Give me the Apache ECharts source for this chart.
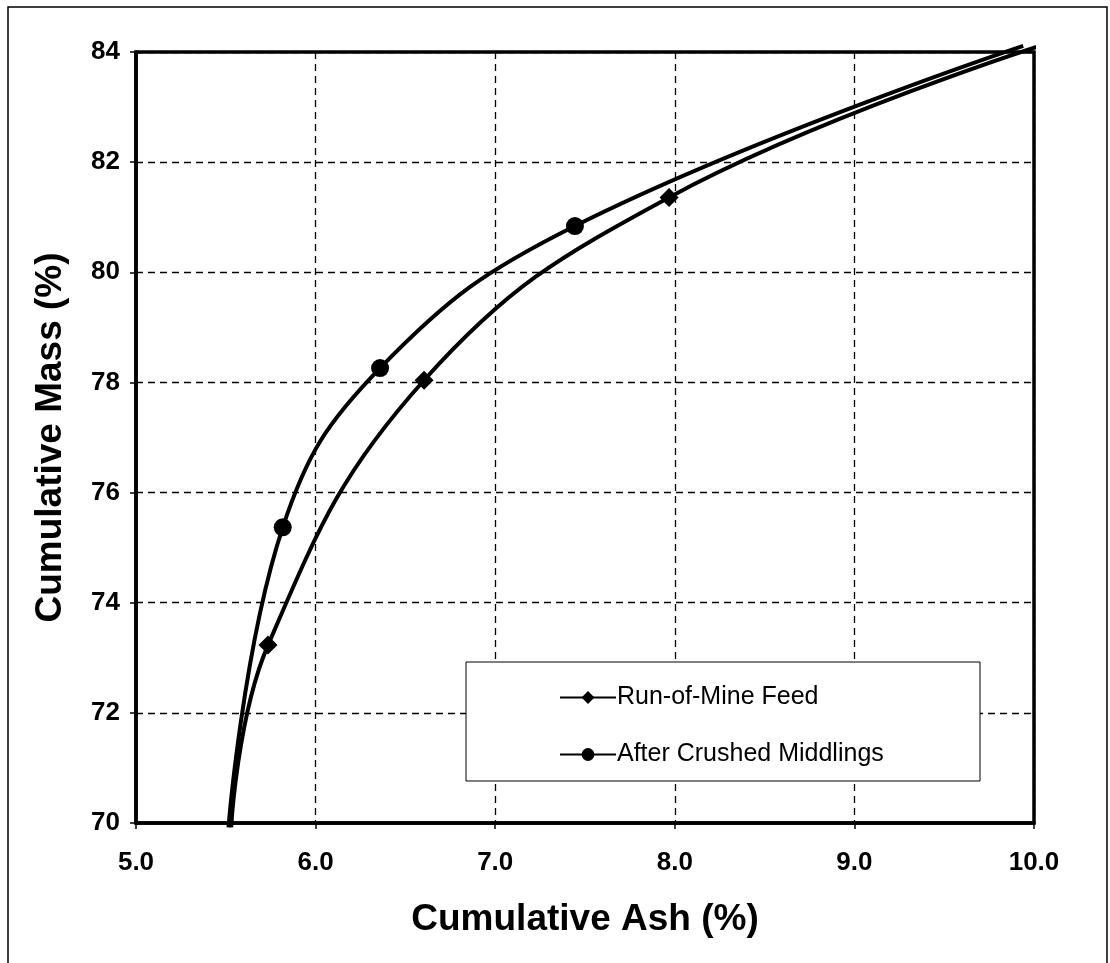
<!DOCTYPE html>
<html>
<head>
<meta charset="utf-8">
<script src="https://cdn.jsdelivr.net/npm/echarts@6/dist/echarts.min.js"></script>
<style>
  html, body { margin: 0; padding: 0; background: #fff; }
  #chart { width: 1110px; height: 963px; }
</style>
</head>
<body>
<div id="chart"></div>
<script>
// values
let seriesNames = ['Run-of-Mine Feed', 'After Crushed Middlings'];
let ashRom = [5.53, 5.735, 6.604, 7.968, 10.04];
let massRom = [69.92, 73.23, 78.04, 81.36, 84.12];
let ashAcm = [5.515, 5.817, 6.359, 7.444, 9.94];
let massAcm = [69.92, 75.37, 78.26, 80.84, 84.11];
let xTicks = [5, 6, 7, 8, 9, 10];
let yTicks = [70, 72, 74, 76, 78, 80, 82, 84];

let font = 'Liberation Sans, Arial, sans-serif';

// end points carry no marker
function pairs(xs, ys) {
    return xs.map((x, i) => {
        let p = { value: [x, ys[i]] };
        if (i == 0 || i == xs.length - 1) p.symbol = 'none';
        return p;
    });
}

let myChart = echarts.init(document.getElementById('chart'));
let option = {
    backgroundColor: '#fff',
    animation: false,
    textStyle: { fontFamily: font, color: '#000' },
    graphic: [
        {
            type: 'rect', z: 0, silent: true,
            shape: { x: 8, y: 7, width: 1099, height: 980 },
            style: { fill: null, stroke: '#000', lineWidth: 1.5 }
        },
        {
            type: 'rect', z: 3, silent: true,
            shape: { x: 466, y: 662, width: 514, height: 119 },
            style: { fill: '#fff', stroke: '#000', lineWidth: 1 }
        }
    ],
    grid: {
        left: 136, right: 76, top: 52, bottom: 140,
        show: true, borderColor: '#000', borderWidth: 3.5, backgroundColor: 'transparent'
    },
    legend: {
        orient: 'vertical',
        left: 554, top: 680,
        itemWidth: 56, itemHeight: 16, itemGap: 32,
        data: seriesNames,
        textStyle: { fontFamily: font, fontSize: 25, color: '#000', padding: [0, 0, 0, -4] },
        inactiveColor: '#000'
    },
    xAxis: {
        type: 'value', min: xTicks[0], max: xTicks[xTicks.length - 1], interval: 1,
        name: 'Cumulative Ash (%)', nameLocation: 'middle', nameGap: 78,
        nameTextStyle: { fontSize: 37, fontWeight: 'bold', color: '#000' },
        axisLine: { show: true, lineStyle: { color: '#000', width: 3.5 } },
        axisTick: { show: true, inside: false, length: 6, lineStyle: { color: '#000', width: 1.5 } },
        axisLabel: { fontSize: 26, fontWeight: 'bold', color: '#000', margin: 27, formatter: v => v.toFixed(1) },
        splitLine: { show: true, lineStyle: { color: '#000', width: 1.3, type: [7, 5] } }
    },
    yAxis: {
        type: 'value', min: yTicks[0], max: yTicks[yTicks.length - 1], interval: 2,
        name: 'Cumulative Mass (%)', nameLocation: 'middle', nameGap: 67, nameRotate: 90,
        nameTextStyle: { fontSize: 37, fontWeight: 'bold', color: '#000' },
        axisLine: { show: true, lineStyle: { color: '#000', width: 3.5 } },
        axisTick: { show: true, inside: false, length: 6, lineStyle: { color: '#000', width: 1.5 } },
        axisLabel: { fontSize: 26, fontWeight: 'bold', color: '#000', margin: 16 },
        splitLine: { show: true, lineStyle: { color: '#000', width: 1.3, type: [7, 5] } }
    },
    series: [
        {
            name: seriesNames[0], type: 'line', smooth: 0.42, clip: false,
            symbol: 'diamond', symbolSize: 19,
            lineStyle: { color: '#000', width: 4 },
            itemStyle: { color: '#000' },
            data: pairs(ashRom, massRom)
        },
        {
            name: seriesNames[1], type: 'line', smooth: 0.42, clip: false,
            symbol: 'circle', symbolSize: 18,
            lineStyle: { color: '#000', width: 4 },
            itemStyle: { color: '#000' },
            data: pairs(ashAcm, massAcm)
        }
    ]
};
myChart.setOption(option);
</script>
</body>
</html>
